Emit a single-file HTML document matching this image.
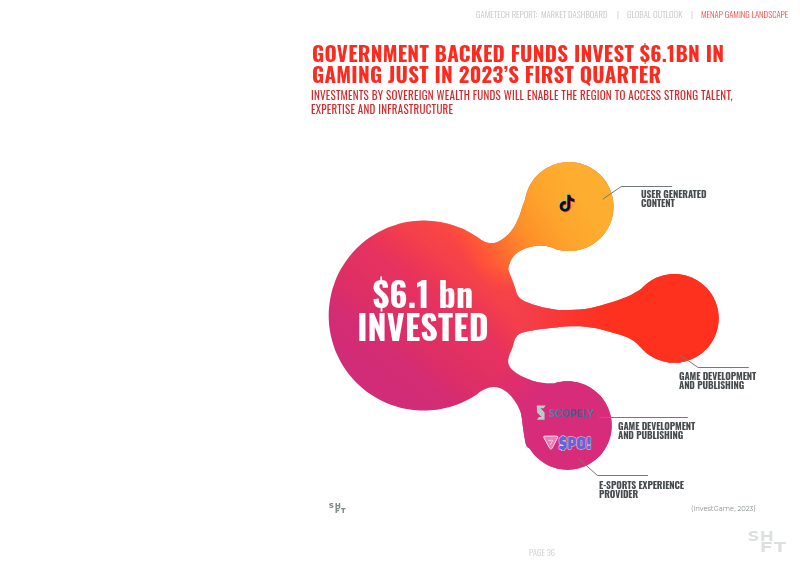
<!DOCTYPE html>
<html><head><meta charset="utf-8">
<style>
html,body{margin:0;padding:0;background:#fff;}
body{width:800px;height:565px;overflow:hidden;position:relative;font-family:"Oswald","Liberation Sans Narrow","Liberation Sans",sans-serif;}
.abs{position:absolute;white-space:nowrap;will-change:transform;}
h1{will-change:transform;}
.nav{top:8px;font-size:8.7px;font-weight:300;color:#c4c4c4;line-height:14px;letter-spacing:0;}
.nav.hl{color:#f4473e;}
h1{position:absolute;left:312px;top:43px;margin:0;font-size:21px;line-height:20.8px;font-weight:700;color:#fd2a20;white-space:nowrap;letter-spacing:0.25px;}
.sub{left:311.4px;top:88px;font-size:11px;line-height:14.3px;font-weight:400;color:#d6282a;letter-spacing:0.23px;}
.lbl{font-size:9.5px;line-height:9.2px;font-weight:700;color:#464b4e;letter-spacing:-0.1px;}
.big{left:328px;width:190px;text-align:center;color:#fff;font-weight:700;font-size:34px;line-height:33px;letter-spacing:0.2px;}
svg{position:absolute;left:0;top:0;}
.cite{left:690.5px;top:504px;font-family:"Montserrat","Liberation Sans",sans-serif;font-size:6.8px;line-height:10px;color:#8c9092;}
.page{left:528.5px;top:546px;font-size:8.7px;line-height:14px;font-weight:300;color:#cdcdcd;}
.shft{font-family:"Montserrat","Liberation Sans",sans-serif;font-weight:700;transform-origin:0 0;line-height:1;}
.sb{font-size:13.5px;color:#dcdfdf;font-weight:700;transform:scaleX(1.25);}
.ss{font-size:6.2px;color:#7f8787;font-weight:800;transform:scaleX(1.15);}
</style></head><body>
<svg width="800" height="565" viewBox="0 0 800 565">
<defs>
<linearGradient id="g1" gradientUnits="userSpaceOnUse" x1="360" y1="394.3" x2="485.8" y2="238.9">
<stop offset="0.025" stop-color="#d02c79"/>
<stop offset="0.25" stop-color="#d42c74"/>
<stop offset="0.35" stop-color="#db2e69"/>
<stop offset="0.45" stop-color="#e03063"/>
<stop offset="0.6" stop-color="#e63260"/>
<stop offset="0.675" stop-color="#eb3656"/>
<stop offset="0.8" stop-color="#f4414a"/>
<stop offset="0.9" stop-color="#f94545"/>
<stop offset="0.975" stop-color="#fb4a3e"/>
</linearGradient>
<linearGradient id="g4" gradientUnits="userSpaceOnUse" x1="470.6" y1="267.9" x2="582.8" y2="197.9">
<stop offset="0" stop-color="#ff5039" stop-opacity="0"/>
<stop offset="0.076" stop-color="#ff5039" stop-opacity="0.75"/>
<stop offset="0.22" stop-color="#ff6432"/>
<stop offset="0.477" stop-color="#fd8f28"/>
<stop offset="0.735" stop-color="#fda42d"/>
<stop offset="0.977" stop-color="#fdad2f"/>
</linearGradient>
<linearGradient id="gm" gradientUnits="userSpaceOnUse" x1="0" y1="266" x2="0" y2="292">
<stop offset="0" stop-color="#fff"/>
<stop offset="1" stop-color="#000"/>
</linearGradient>
<mask id="m4" maskUnits="userSpaceOnUse" x="0" y="0" width="800" height="565"><rect x="0" y="0" width="800" height="565" fill="url(#gm)"/></mask>
<linearGradient id="g2" gradientUnits="userSpaceOnUse" x1="506" y1="0" x2="604" y2="0">
<stop offset="0" stop-color="#f23d4d" stop-opacity="0"/>
<stop offset="0.22" stop-color="#f33e4a" stop-opacity="1"/>
<stop offset="0.5" stop-color="#f93838" stop-opacity="1"/>
<stop offset="1" stop-color="#fe311e" stop-opacity="1"/>
</linearGradient>
<radialGradient id="g3" gradientUnits="userSpaceOnUse" cx="567.5" cy="425.5" r="90">
<stop offset="0.5" stop-color="#d72c79" stop-opacity="1"/>
<stop offset="1" stop-color="#d72c79" stop-opacity="0"/>
</radialGradient>
<path id="blobp" d="M482.2,390.5C480.2,391.6 478.6,393.1 476.8,394.4C475.0,395.6 473.1,396.8 471.2,397.9C469.2,399.0 467.3,400.0 465.3,401.0C463.3,402.0 461.2,402.9 459.2,403.7C457.1,404.6 455.0,405.3 452.9,406.0C450.8,406.7 448.7,407.3 446.5,407.8C444.4,408.3 442.2,408.8 440.0,409.2C437.8,409.6 435.6,409.9 433.4,410.1C431.2,410.3 429.0,410.5 426.8,410.6C424.6,410.6 422.3,410.6 420.1,410.5C417.9,410.4 415.7,410.3 413.5,410.0C411.3,409.8 409.1,409.5 406.9,409.1C404.7,408.7 402.5,408.2 400.4,407.7C398.2,407.2 396.1,406.5 394.0,405.8C391.9,405.1 389.8,404.4 387.7,403.5C385.7,402.7 383.7,401.8 381.7,400.8C379.7,399.8 377.7,398.8 375.8,397.6C373.9,396.5 372.0,395.3 370.2,394.1C368.4,392.8 366.6,391.5 364.8,390.2C363.1,388.8 361.4,387.3 359.7,385.8C358.1,384.4 356.5,382.8 355.0,381.2C353.4,379.6 352.0,377.9 350.6,376.2C349.1,374.5 347.8,372.8 346.5,370.9C345.2,369.1 344.0,367.3 342.8,365.4C341.6,363.5 340.5,361.6 339.5,359.6C338.5,357.7 337.5,355.6 336.6,353.6C335.7,351.6 334.9,349.5 334.2,347.4C333.4,345.3 332.8,343.2 332.2,341.1C331.6,338.9 331.1,336.8 330.6,334.6C330.2,332.4 329.8,330.2 329.5,328.0C329.2,325.8 329.0,323.6 328.9,321.4C328.7,319.2 328.7,317.0 328.7,314.8C328.7,312.5 328.8,310.3 329.0,308.1C329.2,305.9 329.4,303.7 329.8,301.5C330.1,299.3 330.5,297.1 331.0,294.9C331.5,292.8 332.0,290.6 332.6,288.5C333.3,286.4 334.0,284.3 334.8,282.2C335.5,280.1 336.4,278.1 337.3,276.0C338.2,274.0 339.2,272.0 340.3,270.1C341.4,268.1 342.5,266.2 343.7,264.4C344.9,262.5 346.2,260.7 347.5,258.9C348.8,257.1 350.2,255.4 351.6,253.7C353.1,252.0 354.6,250.4 356.2,248.8C357.7,247.2 359.3,245.7 361.0,244.2C362.7,242.8 364.4,241.4 366.1,240.0C367.9,238.7 369.7,237.4 371.6,236.2C373.4,235.0 375.3,233.8 377.3,232.7C379.2,231.6 381.2,230.6 383.2,229.7C385.2,228.7 387.2,227.8 389.3,227.0C391.4,226.2 393.5,225.5 395.6,224.9C397.7,224.2 399.9,223.6 402.0,223.1C404.2,222.6 406.4,222.2 408.6,221.8C410.7,221.5 412.9,221.2 415.2,221.0C417.4,220.8 419.6,220.7 421.8,220.6C424.0,220.6 426.2,220.6 428.5,220.7C430.7,220.8 432.9,221.0 435.1,221.3C437.3,221.6 439.5,221.9 441.7,222.3C443.8,222.7 446.0,223.2 448.2,223.8C450.3,224.4 452.4,225.0 454.5,225.7C456.6,226.5 458.7,227.3 460.7,228.1C462.8,229.0 464.8,229.9 466.8,230.9C468.8,231.9 470.7,233.0 472.6,234.2C474.5,235.3 476.7,236.8 478.2,237.8C479.7,238.8 480.3,239.5 481.7,240.3C483.1,241.1 484.8,241.9 486.5,242.4C488.2,242.9 490.1,243.1 491.8,243.1C493.6,243.1 495.3,242.8 497.0,242.2C498.7,241.6 500.3,240.7 502.0,239.6C503.7,238.5 505.3,237.2 507.0,235.6C508.7,234.0 510.5,232.0 512.0,230.0C513.5,228.0 514.8,225.7 516.0,223.4C517.2,221.1 518.4,218.6 519.4,216.1C520.4,213.6 520.8,211.3 521.8,208.4C522.8,205.5 524.5,201.0 525.2,198.9C525.8,196.8 525.6,196.8 525.8,195.8C526.1,194.8 526.4,193.8 526.7,192.8C527.0,191.8 527.4,190.9 527.8,189.9C528.1,188.9 528.6,188.0 529.0,187.1C529.5,186.1 530.0,185.2 530.5,184.3C531.0,183.4 531.6,182.5 532.1,181.7C532.7,180.8 533.3,180.0 534.0,179.1C534.6,178.3 535.3,177.5 536.0,176.8C536.7,176.0 537.4,175.2 538.2,174.5C538.9,173.8 539.7,173.1 540.5,172.4C541.3,171.8 542.1,171.1 542.9,170.5C543.8,169.9 544.6,169.3 545.5,168.8C546.4,168.2 547.3,167.7 548.2,167.2C549.2,166.8 550.1,166.3 551.0,165.9C552.0,165.5 553.0,165.1 553.9,164.7C554.9,164.4 555.9,164.1 556.9,163.8C557.9,163.5 558.9,163.2 559.9,163.0C560.9,162.8 562.0,162.6 563.0,162.5C564.0,162.4 565.1,162.3 566.1,162.2C567.1,162.1 568.2,162.1 569.2,162.1C570.3,162.1 571.3,162.1 572.3,162.2C573.4,162.3 574.4,162.4 575.4,162.6C576.5,162.7 577.5,162.9 578.5,163.1C579.5,163.3 580.5,163.6 581.5,163.9C582.5,164.2 583.5,164.5 584.5,164.9C585.5,165.2 586.4,165.6 587.4,166.1C588.3,166.5 589.2,167.0 590.2,167.4C591.1,167.9 592.0,168.5 592.8,169.0C593.7,169.6 594.6,170.2 595.4,170.8C596.2,171.4 597.1,172.0 597.9,172.7C598.6,173.4 599.4,174.1 600.2,174.8C600.9,175.6 601.6,176.3 602.3,177.1C603.0,177.9 603.7,178.7 604.3,179.5C604.9,180.3 605.5,181.2 606.1,182.0C606.7,182.9 607.2,183.8 607.7,184.7C608.2,185.6 608.7,186.5 609.2,187.4C609.6,188.4 610.0,189.3 610.4,190.3C610.8,191.3 611.1,192.3 611.4,193.2C611.8,194.2 612.0,195.2 612.3,196.2C612.5,197.3 612.7,198.3 612.9,199.3C613.1,200.3 613.2,201.4 613.3,202.4C613.4,203.4 613.5,204.5 613.5,205.5C613.5,206.5 613.5,207.6 613.5,208.6C613.4,209.7 613.3,210.7 613.2,211.7C613.1,212.8 612.9,213.8 612.7,214.8C612.5,215.8 612.3,216.8 612.1,217.9C611.8,218.9 611.5,219.9 611.2,220.8C610.8,221.8 610.5,222.8 610.1,223.8C609.7,224.7 609.2,225.7 608.8,226.6C608.3,227.5 607.8,228.4 607.3,229.3C606.7,230.2 606.2,231.1 605.6,231.9C605.0,232.8 604.4,233.6 603.7,234.4C603.1,235.3 602.4,236.0 601.7,236.8C601.0,237.6 600.2,238.3 599.5,239.0C598.7,239.7 597.9,240.4 597.1,241.1C596.3,241.7 595.5,242.4 594.7,243.0C593.8,243.6 592.9,244.1 592.1,244.7C591.2,245.2 590.3,245.7 589.3,246.2C588.4,246.7 587.5,247.1 586.5,247.5C585.6,247.9 584.6,248.3 583.6,248.6C582.6,249.0 581.6,249.3 580.6,249.6C579.6,249.8 578.6,250.1 577.6,250.3C576.6,250.5 575.5,250.6 574.5,250.8C573.5,250.9 572.4,251.0 571.4,251.0C570.4,251.1 569.3,251.1 568.3,251.1C567.3,251.1 566.2,251.0 565.2,250.9C564.1,250.8 563.1,250.7 562.1,250.6C561.1,250.4 560.0,250.2 559.0,250.0C558.0,249.7 557.0,249.5 556.0,249.2C555.0,248.9 554.0,248.5 553.1,248.1C552.1,247.8 552.2,247.4 550.2,246.9C548.1,246.5 543.8,245.7 540.8,245.6C537.8,245.5 535.1,245.8 532.3,246.4C529.5,247.0 526.4,247.8 523.8,248.9C521.2,250.0 518.7,251.4 516.7,253.1C514.7,254.8 513.1,256.8 511.8,258.8C510.5,260.8 509.6,263.5 509.0,265.3C508.4,267.1 508.2,268.3 508.3,269.6C508.4,270.9 508.9,271.4 509.6,273.3C510.3,275.2 511.7,278.6 512.7,281.2C513.7,283.8 514.6,286.4 515.4,288.7C516.2,291.0 516.5,293.3 517.5,295.1C518.5,296.9 519.5,298.1 521.2,299.3C522.9,300.5 524.9,301.4 527.6,302.5C530.3,303.6 533.8,304.7 537.2,305.7C540.6,306.7 544.3,307.6 547.8,308.3C551.3,309.0 554.8,309.6 558.4,309.9C562.0,310.2 565.5,310.1 569.1,310.0C572.7,309.9 576.5,309.9 580.0,309.6C583.5,309.3 586.7,308.8 590.0,308.2C593.3,307.6 596.7,306.7 600.0,305.8C603.3,304.9 606.7,303.9 610.0,302.8C613.3,301.7 616.7,300.6 620.0,299.4C623.3,298.2 627.2,296.8 630.0,295.5C632.8,294.2 634.6,292.9 636.5,291.8C638.4,290.7 640.1,289.6 641.3,288.7C642.5,287.8 642.7,287.2 643.5,286.5C644.2,285.7 645.0,285.1 645.8,284.4C646.6,283.7 647.4,283.1 648.2,282.5C649.0,281.9 649.9,281.3 650.8,280.7C651.6,280.2 652.5,279.7 653.5,279.2C654.4,278.7 655.3,278.3 656.2,277.8C657.2,277.4 658.1,277.0 659.1,276.7C660.1,276.3 661.1,276.0 662.1,275.7C663.1,275.4 664.1,275.2 665.1,275.0C666.1,274.8 667.1,274.6 668.1,274.4C669.1,274.3 670.2,274.2 671.2,274.1C672.2,274.0 673.3,274.0 674.3,274.0C675.3,274.0 676.4,274.0 677.4,274.1C678.4,274.2 679.5,274.3 680.5,274.4C681.5,274.6 682.5,274.8 683.5,275.0C684.5,275.2 685.5,275.4 686.5,275.7C687.5,276.0 688.5,276.3 689.5,276.7C690.5,277.0 691.4,277.4 692.4,277.8C693.3,278.3 694.2,278.7 695.1,279.2C696.1,279.7 697.0,280.2 697.8,280.7C698.7,281.3 699.6,281.9 700.4,282.5C701.2,283.1 702.0,283.7 702.8,284.4C703.6,285.1 704.4,285.7 705.1,286.5C705.9,287.2 706.6,287.9 707.3,288.7C708.0,289.5 708.7,290.3 709.3,291.1C709.9,291.9 710.5,292.7 711.1,293.6C711.7,294.4 712.2,295.3 712.8,296.2C713.3,297.1 713.8,298.0 714.2,298.9C714.7,299.9 715.1,300.8 715.5,301.8C715.9,302.7 716.2,303.7 716.5,304.7C716.8,305.7 717.1,306.7 717.4,307.7C717.6,308.7 717.8,309.7 718.0,310.7C718.2,311.7 718.3,312.7 718.5,313.8C718.6,314.8 718.6,315.8 718.7,316.9C718.7,317.9 718.7,318.9 718.7,319.9C718.6,321.0 718.6,322.0 718.5,323.0C718.3,324.1 718.2,325.1 718.0,326.1C717.8,327.1 717.6,328.1 717.4,329.1C717.1,330.1 716.8,331.1 716.5,332.1C716.2,333.1 715.9,334.1 715.5,335.0C715.1,336.0 714.7,336.9 714.2,337.9C713.8,338.8 713.3,339.7 712.8,340.6C712.2,341.5 711.7,342.4 711.1,343.2C710.5,344.1 709.9,344.9 709.3,345.7C708.7,346.5 708.0,347.3 707.3,348.1C706.6,348.9 705.9,349.6 705.1,350.3C704.4,351.1 703.6,351.7 702.8,352.4C702.0,353.1 701.2,353.7 700.4,354.3C699.6,354.9 698.7,355.5 697.8,356.1C697.0,356.6 696.1,357.1 695.1,357.6C694.2,358.1 693.3,358.5 692.4,359.0C691.4,359.4 690.5,359.8 689.5,360.1C688.5,360.5 687.5,360.8 686.5,361.1C685.5,361.4 684.5,361.6 683.5,361.8C682.5,362.0 681.5,362.2 680.5,362.4C679.5,362.5 678.4,362.6 677.4,362.7C676.4,362.8 675.3,362.8 674.3,362.8C673.3,362.8 672.2,362.8 671.2,362.7C670.2,362.6 669.1,362.5 668.1,362.4C667.1,362.2 666.1,362.0 665.1,361.8C664.1,361.6 663.1,361.4 662.1,361.1C661.1,360.8 660.1,360.5 659.1,360.1C658.1,359.8 657.2,359.4 656.2,359.0C655.3,358.5 654.4,358.1 653.5,357.6C652.5,357.1 651.6,356.6 650.8,356.1C649.9,355.5 649.0,354.9 648.2,354.3C647.4,353.7 646.6,353.1 645.8,352.4C645.0,351.7 644.2,351.1 643.5,350.3C642.7,349.6 642.8,349.6 641.3,348.1C639.8,346.7 636.7,343.3 634.5,341.6C632.3,339.9 630.9,339.1 628.1,337.8C625.3,336.6 621.0,335.2 617.5,334.1C614.0,333.0 610.4,331.9 606.9,330.9C603.4,329.9 599.8,329.0 596.2,328.3C592.7,327.6 589.1,327.1 585.6,326.7C582.1,326.3 578.4,326.2 575.0,326.2C571.6,326.2 568.5,326.3 565.0,326.6C561.5,326.9 557.9,327.4 553.7,327.8C549.5,328.2 544.1,328.6 539.6,329.2C535.1,329.8 530.0,330.9 526.8,331.6C523.6,332.3 522.0,332.7 520.4,333.5C518.8,334.3 517.8,335.2 516.9,336.3C516.0,337.4 515.5,338.0 514.8,339.8C514.1,341.6 513.5,344.5 512.7,346.9C511.9,349.3 510.6,351.6 509.8,354.0C509.0,356.4 508.1,359.0 508.1,361.1C508.1,363.2 508.6,364.8 509.8,366.7C511.0,368.6 513.1,370.6 515.5,372.4C517.9,374.2 520.7,375.8 524.0,377.3C527.3,378.8 531.5,380.6 535.3,381.6C539.1,382.6 543.5,383.1 546.6,383.4C549.7,383.7 552.1,383.6 553.8,383.5C555.5,383.3 555.8,382.9 556.8,382.6C557.8,382.4 558.8,382.1 559.8,382.0C560.8,381.8 561.9,381.6 562.9,381.5C563.9,381.4 564.9,381.4 566.0,381.3C567.0,381.3 568.0,381.3 569.0,381.3C570.1,381.4 571.1,381.4 572.1,381.5C573.1,381.6 574.2,381.8 575.2,382.0C576.2,382.1 577.2,382.4 578.2,382.6C579.2,382.9 580.2,383.1 581.2,383.5C582.1,383.8 583.1,384.1 584.1,384.5C585.0,384.9 586.0,385.3 586.9,385.8C587.8,386.2 588.7,386.7 589.6,387.2C590.5,387.7 591.4,388.3 592.2,388.9C593.1,389.4 593.9,390.0 594.7,390.7C595.5,391.3 596.3,392.0 597.1,392.7C597.8,393.3 598.6,394.1 599.3,394.8C600.0,395.5 600.7,396.3 601.4,397.1C602.0,397.9 602.7,398.7 603.3,399.5C603.9,400.4 604.4,401.2 605.0,402.1C605.5,402.9 606.0,403.8 606.5,404.7C607.0,405.7 607.5,406.6 607.9,407.5C608.3,408.5 608.7,409.4 609.0,410.4C609.4,411.3 609.7,412.3 610.0,413.3C610.3,414.3 610.5,415.3 610.7,416.3C610.9,417.3 611.1,418.3 611.3,419.3C611.4,420.4 611.5,421.4 611.6,422.4C611.7,423.4 611.7,424.5 611.7,425.5C611.7,426.5 611.7,427.6 611.6,428.6C611.5,429.6 611.4,430.6 611.3,431.7C611.1,432.7 610.9,433.7 610.7,434.7C610.5,435.7 610.3,436.7 610.0,437.7C609.7,438.7 609.4,439.7 609.0,440.6C608.7,441.6 608.3,442.5 607.9,443.5C607.5,444.4 607.0,445.3 606.5,446.3C606.0,447.2 605.5,448.1 605.0,448.9C604.4,449.8 603.9,450.6 603.3,451.5C602.7,452.3 602.0,453.1 601.4,453.9C600.7,454.7 600.0,455.5 599.3,456.2C598.6,456.9 597.8,457.7 597.1,458.3C596.3,459.0 595.5,459.7 594.7,460.3C593.9,461.0 593.1,461.6 592.2,462.1C591.4,462.7 590.5,463.3 589.6,463.8C588.7,464.3 587.8,464.8 586.9,465.2C586.0,465.7 585.0,466.1 584.1,466.5C583.1,466.9 582.1,467.2 581.2,467.5C580.2,467.9 579.2,468.1 578.2,468.4C577.2,468.6 576.2,468.9 575.2,469.0C574.2,469.2 573.1,469.4 572.1,469.5C571.1,469.6 570.1,469.6 569.0,469.7C568.0,469.7 567.0,469.7 566.0,469.7C564.9,469.6 563.9,469.6 562.9,469.5C561.9,469.4 560.8,469.2 559.8,469.0C558.8,468.9 557.8,468.6 556.8,468.4C555.8,468.1 554.8,467.9 553.8,467.5C552.9,467.2 551.9,466.9 550.9,466.5C550.0,466.1 549.0,465.7 548.1,465.2C547.2,464.8 546.3,464.3 545.4,463.8C544.5,463.3 543.6,462.7 542.8,462.1C541.9,461.6 541.1,461.0 540.3,460.3C539.5,459.7 538.7,459.0 537.9,458.3C537.2,457.7 536.4,456.9 535.7,456.2C535.0,455.5 534.3,454.7 533.6,453.9C533.0,453.1 532.3,452.3 531.7,451.5C531.1,450.6 530.9,449.9 530.0,448.9C529.1,447.9 527.3,447.7 526.3,445.5C525.3,443.3 524.8,438.5 524.2,435.5C523.7,432.5 523.4,430.2 523.0,427.4C522.6,424.6 522.4,421.2 521.9,418.5C521.4,415.8 521.2,413.7 520.3,411.2C519.4,408.7 517.9,405.8 516.5,403.5C515.1,401.2 513.6,399.2 512.1,397.3C510.6,395.4 509.1,393.8 507.2,392.3C505.3,390.9 503.1,389.5 501.0,388.6C498.9,387.7 496.9,387.2 494.8,387.1C492.7,387.0 490.7,387.2 488.6,387.8C486.5,388.4 484.2,389.4 482.2,390.5Z"/>
<linearGradient id="gs" gradientUnits="userSpaceOnUse" x1="549" y1="0" x2="594" y2="0"><stop offset="0" stop-color="#5b7fb0"/><stop offset="0.6" stop-color="#3a5886"/><stop offset="1" stop-color="#5a7aa8"/></linearGradient>
<clipPath id="cp"><use href="#blobp"/></clipPath>
</defs>
<use href="#blobp" fill="url(#g1)"/>
<g clip-path="url(#cp)">
<rect x="440" y="150" width="190" height="150" fill="url(#g4)" mask="url(#m4)"/>
<rect x="505" y="262" width="230" height="106" fill="url(#g2)"/>
<circle cx="567.5" cy="425.5" r="90" fill="url(#g3)"/>
</g>
<g transform="translate(558.6,194.8) scale(0.7)">
<path d="M12.525.02c1.31-.02 2.61-.01 3.91-.02.08 1.53.63 3.09 1.75 4.17 1.12 1.11 2.7 1.62 4.24 1.79v4.03c-1.44-.05-2.89-.35-4.2-.97-.57-.26-1.1-.59-1.62-.93-.01 2.92.01 5.840-.02 8.75-.08 1.4-.54 2.79-1.35 3.94-1.31 1.92-3.58 3.170-5.91 3.21-1.43.08-2.86-.31-4.08-1.03-2.020-1.19-3.44-3.37-3.65-5.71-.02-.5-.03-1-.01-1.49.18-1.9 1.12-3.72 2.58-4.96 1.66-1.44 3.98-2.13 6.15-1.72.02 1.48-.04 2.96-.04 4.44-.99-.32-2.15-.23-3.02.37-.63.41-1.11 1.04-1.36 1.75-.21.51-.15 1.07-.14 1.61.24 1.64 1.82 3.02 3.5 2.87 1.12-.01 2.19-.66 2.77-1.61.19-.33.4-.67.41-1.06.1-1.790.06-3.570.07-5.36.01-4.03-.01-8.05.02-12.07z" fill="#25f4ee" transform="translate(-0.9,-0.9)"/>
<path d="M12.525.02c1.31-.02 2.61-.01 3.91-.02.08 1.53.63 3.09 1.75 4.17 1.12 1.11 2.7 1.62 4.24 1.79v4.03c-1.44-.05-2.89-.35-4.2-.97-.57-.26-1.1-.59-1.62-.93-.01 2.92.01 5.840-.02 8.75-.08 1.4-.54 2.79-1.35 3.94-1.31 1.92-3.58 3.170-5.91 3.21-1.43.08-2.86-.31-4.08-1.03-2.020-1.19-3.44-3.37-3.65-5.71-.02-.5-.03-1-.01-1.49.18-1.9 1.12-3.72 2.58-4.96 1.66-1.44 3.98-2.13 6.15-1.72.02 1.48-.04 2.96-.04 4.44-.99-.32-2.15-.23-3.02.37-.63.41-1.11 1.04-1.36 1.75-.21.51-.15 1.07-.14 1.61.24 1.64 1.82 3.02 3.5 2.87 1.12-.01 2.19-.66 2.77-1.61.19-.33.4-.67.41-1.06.1-1.790.06-3.570.07-5.36.01-4.03-.01-8.05.02-12.07z" fill="#fe2c55" transform="translate(0.9,0.9)"/>
<path d="M12.525.02c1.31-.02 2.61-.01 3.91-.02.08 1.53.63 3.09 1.75 4.17 1.12 1.11 2.7 1.62 4.24 1.79v4.03c-1.44-.05-2.89-.35-4.2-.97-.57-.26-1.1-.59-1.62-.93-.01 2.92.01 5.840-.02 8.75-.08 1.4-.54 2.79-1.35 3.94-1.31 1.92-3.58 3.170-5.91 3.21-1.43.08-2.86-.31-4.08-1.03-2.020-1.19-3.44-3.37-3.65-5.71-.02-.5-.03-1-.01-1.49.18-1.9 1.12-3.72 2.58-4.96 1.66-1.44 3.98-2.13 6.15-1.72.02 1.48-.04 2.96-.04 4.44-.99-.32-2.15-.23-3.02.37-.63.41-1.11 1.04-1.36 1.75-.21.51-.15 1.07-.14 1.61.24 1.64 1.82 3.02 3.5 2.87 1.12-.01 2.19-.66 2.77-1.61.19-.33.4-.67.41-1.06.1-1.790.06-3.570.07-5.36.01-4.03-.01-8.05.02-12.07z" fill="#111"/>
</g>
<polygon points="536.8,405.6 545.8,405.6 543.6,408.3 540.6,408.3 544.6,412.6 544.6,419.8 536.8,419.8 539,417.1 541.6,417.1 537,412.4" fill="#b3cfcb"/>
<text x="549" y="416.6" font-family="Montserrat, Liberation Sans, sans-serif" font-weight="700" font-size="10.4" letter-spacing="0" fill="url(#gs)" textLength="45" lengthAdjust="spacingAndGlyphs">SCOPELY</text>
<path d="M543.8,437.6 Q543.2,436.1 545,436.1 L556.6,436.1 Q558.3,436.1 557.6,437.7 L552.2,448.3 Q550.9,450.3 549.7,448.3 Z" fill="#f07ab4" stroke="#fde6f2" stroke-width="0.9"/>
<path d="M548.2,440.3 L552.8,440.3 L550.2,445" fill="none" stroke="#fde6f2" stroke-width="0.7"/>
<text x="558.6" y="449.3" font-family="Bungee, Russo One, Liberation Sans, sans-serif" font-size="16" fill="#5f68d2" stroke="#ecd6f2" stroke-width="1.1" paint-order="stroke" textLength="33" lengthAdjust="spacingAndGlyphs">$PO!</text>
<g fill="none" stroke="#737a7b" stroke-width="1">
<polyline points="602.8,199.2 621.2,186.5 672.2,186.5"/>
<polyline points="679.4,354.6 698.1,367.5 748.8,367.5"/>
<polyline points="599.2,417.5 687.8,417.5"/>
<polyline points="578.9,458.8 597.4,475.5 648,475.5"/>
</g>
</svg>
<div class="abs nav" style="left:475.5px">GAMETECH REPORT:&nbsp; MARKET DASHBOARD</div>
<div class="abs nav" style="left:616.5px">|</div>
<div class="abs nav" style="left:626.6px">GLOBAL OUTLOOK</div>
<div class="abs nav" style="left:691px">|</div>
<div class="abs nav hl" style="left:701.3px">MENAP GAMING LANDSCAPE</div>
<h1>GOVERNMENT BACKED FUNDS INVEST $6.1BN IN<br>GAMING JUST IN 2023’S FIRST QUARTER</h1>
<div class="abs sub">INVESTMENTS BY SOVEREIGN WEALTH FUNDS WILL ENABLE THE REGION TO ACCESS STRONG TALENT,<br>EXPERTISE AND INFRASTRUCTURE</div>
<div class="abs big" style="top:276px">$6.1 bn<br>INVESTED</div>
<div class="abs lbl" style="left:641px;top:189.8px">USER GENERATED<br>CONTENT</div>
<div class="abs lbl" style="left:679px;top:371.8px">GAME DEVELOPMENT<br>AND PUBLISHING</div>
<div class="abs lbl" style="left:618px;top:421.8px">GAME DEVELOPMENT<br>AND PUBLISHING</div>
<div class="abs lbl" style="left:598.7px;top:480.8px">E-SPORTS EXPERIENCE<br>PROVIDER</div>
<div class="abs cite">(InvestGame, 2023)</div>
<div class="abs page">PAGE 36</div>
<div class="abs shft sb" style="left:747.5px;top:530px">S</div>
<div class="abs shft sb" style="left:759.7px;top:530px">H</div>
<div class="abs shft sb" style="left:759.7px;top:540.5px;transform:scaleX(1.42)">F</div>
<div class="abs shft sb" style="left:773.8px;top:540.5px;transform:scaleX(1.42)">T</div>
<div class="abs shft ss" style="left:328.9px;top:503.4px">S</div>
<div class="abs shft ss" style="left:334.6px;top:503.4px">H</div>
<div class="abs shft ss" style="left:334.6px;top:508.4px">F</div>
<div class="abs shft ss" style="left:340.8px;top:508.4px">T</div>
<script>
(function(){
var c=document.createElement('canvas').getContext('2d'),s='GOVERNMENT wmWMil 2023';
function w(f){c.font='40px '+f;return c.measureText(s).width;}
var base=w('monospace'),mo=w('Oswald,monospace')===base,mm=w('Montserrat,monospace')===base;
if(!mo&&!mm)return;
var W=[131.5,1.9,55.3,1.9,87.3,412.3,421.9,131.7,65.4,77.2,77.2,85,64.7,26.2];
var els=document.querySelectorAll('h1,.abs:not(.shft)');
for(var i=0;i<els.length&&i<W.length;i++){var e=els[i],isM=/cite/.test(e.className);
if(isM?!mm:!mo)continue;
var fs=parseFloat(getComputedStyle(e).fontSize);if(!isM)e.style.fontSize=(fs*1.13)+'px';
var r=document.createRange();r.selectNodeContents(e);var cw=r.getBoundingClientRect().width;
if(cw>0){e.style.transformOrigin=/big/.test(e.className)?'50% 0':'0 0';e.style.transform='scaleX('+(W[i]/cw).toFixed(4)+')';}}
})();
</script>
</body></html>
